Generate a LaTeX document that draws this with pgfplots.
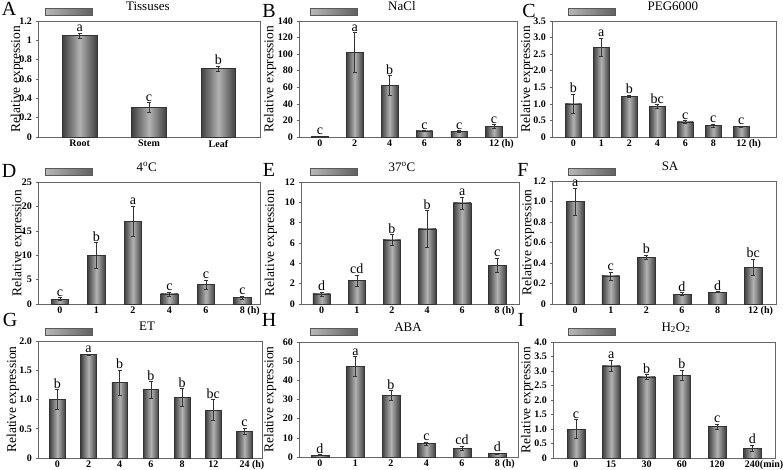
\documentclass[border=0pt]{standalone}
\usepackage{fontspec}
\setmainfont{Liberation Serif}
\usepackage{pgfplots}
\usepackage{pgfplotstable}
\pgfplotsset{compat=1.18}
\pgfplotsset{
  panel/.style={
    scale only axis, clip=false, anchor=south west,
    axis line style={black!60, line width=0.6pt},
    xtick=data,
    major x tick style={draw=none},
    ytick pos=left, tick align=outside, major tick length=2.5pt,
    major y tick style={black!60, line width=0.6pt},
    ticklabel style={font=\fontsize{10}{10}\selectfont\bfseries},
    xticklabel style={yshift=3pt},
    ylabel={Relative expression},
    ylabel style={font=\fontsize{13.5}{13.5}\selectfont, anchor=center},
    title style={font=\fontsize{13}{13}\selectfont, anchor=base, inner sep=0pt, yshift=5pt},
    ymin=0,
    every node near coord/.append style={font=\fontsize{14}{14}\selectfont, inner sep=1pt, black},
  },
  ylabpos/.style={ylabel style={at={(axis description cs:#1,0.5)}}},
  ttlpos/.style={title style={at={(axis description cs:#1,1)}}},
  barplot/.style={ybar, bar width=#1, bar shift=0pt, draw=black!80, line width=0.5pt,
    left color=black!75, right color=black!75, middle color=black!30,
    error bars/.cd, y dir=both, y explicit,
    error bar style={draw=black!80, line width=0.6pt},
    error mark options={rotate=90, mark size=2pt, draw=black!80}},
  letters/.style={draw=none, mark=none, nodes near coords, point meta=explicit symbolic, nodes near coords align={above}},
}
\newcommand{\legbar}[2]{\shade[left color=black!28, right color=black!62, draw=black!65, line width=0.5pt] (#1pt,-#2pt) rectangle ++(47pt,-7.5pt);}
% one plot per bar, so each bar carries its own shading
\newcommand{\bars}[3]{%
  \pgfplotsinvokeforeach{0,...,#2}{\addplot[restrict x to domain=##1:##1, barplot=#3] table[x=x,y=y,y error=e]{#1};}
  \addplot[letters] table[x=x,y expr=\thisrow{y}+\thisrow{e},meta=l]{#1};
}
\pgfplotstableread{
x y e l
0 1.05 0.025 a
1 0.305 0.05 c
2 0.71 0.025 b
}\tA
\pgfplotstableread{
x y e l
0 1.0 0.5 c
1 102 24 a
2 62 12 b
3 7.5 0.5 c
4 6.8 1.0 c
5 12.8 2.2 c
}\tB
\pgfplotstableread{
x y e l
0 1.0 0.29 b
1 2.71 0.28 a
2 1.23 0.03 b
3 0.93 0.05 bc
4 0.46 0.04 c
5 0.35 0.04 c
6 0.32 0.02 c
}\tC
\pgfplotstableread{
x y e l
0 1.0 0.3 c
1 10.0 2.6 b
2 17.0 3.1 a
3 2.1 0.4 c
4 3.95 1.0 c
5 1.3 0.3 c
}\tD
\pgfplotstableread{
x y e l
0 1.0 0.2 d
1 2.3 0.55 cd
2 6.3 0.55 b
3 7.4 1.8 b
4 9.95 0.6 a
5 3.8 0.7 c
}\tE
\pgfplotstableread{
x y e l
0 1.0 0.13 a
1 0.275 0.04 c
2 0.457 0.02 b
3 0.097 0.015 d
4 0.117 0.005 d
5 0.36 0.08 bc
}\tF
\pgfplotstableread{
x y e l
0 1.0 0.17 b
1 1.77 0.01 a
2 1.29 0.21 b
3 1.17 0.14 b
4 1.04 0.15 b
5 0.82 0.18 bc
6 0.46 0.05 c
}\tG
\pgfplotstableread{
x y e l
0 1.0 0.3 d
1 47.2 5.2 a
2 32.2 2.5 b
3 7.0 0.8 c
4 4.7 1.2 cd
5 1.9 0.3 d
}\tH
\pgfplotstableread{
x y e l
0 1.0 0.33 c
1 3.18 0.2 a
2 2.8 0.08 b
3 2.86 0.17 b
4 1.08 0.1 c
5 0.34 0.1 d
}\tI
\begin{document}
\begin{tikzpicture}
\path[use as bounding box] (0,0) rectangle (783pt,-469pt);
% A
\begin{axis}[panel, at={(38pt,-137pt)}, width=222pt, height=116pt,
  xmin=-0.6, xmax=2.6, ymax=1.2, ytick={0,0.2,0.4,0.6,0.8,1,1.2},
  yticklabels={0,0.2,0.4,0.6,0.8,1,1.2}, xtick={0,1,2}, xticklabels={Root,Stem,Leaf},
  title={Tissuses}, ttlpos=0.495, ylabpos=-0.095]
\bars{\tA}{2}{0.5}
\end{axis}
% B
\begin{axis}[panel, at={(299pt,-137pt)}, width=218pt, height=116pt,
  xmin=-0.6, xmax=5.66, ymax=140, ytick={0,20,...,140},
  yticklabels={0,20,40,60,80,100,120,140}, xtick={0,...,5}, xticklabels={0,2,4,6,8,12\rlap{\ (h)}},
  title={NaCl}, ttlpos=0.472, ylabpos=-0.133]
\bars{\tB}{5}{0.48}
\end{axis}
% C
\begin{axis}[panel, at={(552pt,-137pt)}, width=224pt, height=116pt,
  xmin=-0.76, xmax=7.24, ymax=3.5, ytick={0,0.5,...,3.5},
  yticklabels={0,0.5,1.0,1.5,2.0,2.5,3.0,3.5}, xtick={0,...,6}, xticklabels={0,1,2,4,6,8,12\rlap{\ (h)}},
  title={PEG6000}, ttlpos=0.54, ylabpos=-0.112]
\bars{\tC}{6}{0.57}
\end{axis}
% D
\begin{axis}[panel, at={(38pt,-304pt)}, width=222pt, height=122pt,
  xmin=-0.6, xmax=5.48, ymax=25, ytick={0,5,...,25},
  yticklabels={0,5,10,15,20,25}, xtick={0,...,5}, xticklabels={0,1,2,4,6,8\rlap{\ (h)}},
  title={4\textsuperscript{o}C}, ttlpos=0.49, ylabpos=-0.09]
\bars{\tD}{5}{0.48}
\end{axis}
% E
\begin{axis}[panel, at={(301pt,-304pt)}, width=218pt, height=122pt,
  xmin=-0.59, xmax=5.62, ymax=12, ytick={0,2,...,12},
  yticklabels={0,2,4,6,8,10,12}, xtick={0,...,5}, xticklabels={0,1,2,4,6,8\rlap{\ (h)}},
  title={37\textsuperscript{o}C}, ttlpos=0.463, ylabpos=-0.138]
\bars{\tE}{5}{0.5}
\end{axis}
% F
\begin{axis}[panel, at={(552pt,-304pt)}, width=224pt, height=123pt,
  xmin=-0.65, xmax=5.64, ymax=1.2, ytick={0,0.2,0.4,0.6,0.8,1.0,1.2},
  yticklabels={0,0.2,0.4,0.6,0.8,1.0,1.2}, xtick={0,...,5}, xticklabels={0,1,2,6,8,12\rlap{\ (h)}},
  title={SA}, ttlpos=0.527, ylabpos=-0.107]
\bars{\tF}{5}{0.5}
\end{axis}
% G
\begin{axis}[panel, at={(38pt,-458pt)}, width=224pt, height=117pt,
  xmin=-0.62, xmax=6.56, ymax=2.0, ytick={0,0.5,1.0,1.5,2.0},
  yticklabels={0,0.5,1.0,1.5,2.0}, xtick={0,...,6}, xticklabels={0,2,4,6,8,12,24\rlap{\ (h)}},
  title={ET}, ttlpos=0.487, ylabpos=-0.112]
\bars{\tG}{6}{0.5}
\end{axis}
% H
\begin{axis}[panel, at={(299pt,-457pt)}, width=219pt, height=115pt,
  xmin=-0.59, xmax=5.58, ymax=60, ytick={0,10,...,60},
  yticklabels={0,10,20,30,40,50,60}, xtick={0,...,5}, xticklabels={0,1,2,4,6,8\rlap{\ (h)}},
  title={ABA}, ttlpos=0.498, ylabpos=-0.132]
\bars{\tH}{5}{0.5}
\end{axis}
% I
\begin{axis}[panel, at={(553pt,-458pt)}, width=222pt, height=116pt,
  xmin=-0.65, xmax=5.64, ymax=4.0, ytick={0,0.5,...,4.0},
  yticklabels={0,0.5,1.0,1.5,2.0,2.5,3.0,3.5,4.0}, xtick={0,...,5}, xticklabels={0,15,30,60,120,240\rlap{(min)}},
  title={H\textsubscript{2}O\textsubscript{2}}, ttlpos=0.554, ylabpos=-0.117]
\bars{\tI}{5}{0.5}
\end{axis}
% legend bars
\legbar{45}{8}\legbar{310}{8}\legbar{568}{8}
\legbar{45}{168}\legbar{310}{168}\legbar{568}{168}
\legbar{45}{328}\legbar{310}{328}\legbar{568}{328}
% panel letters
\begin{scope}[every node/.style={font=\fontsize{20}{20}\selectfont, inner sep=0pt}]
\node at (9pt,-9pt) {A};
\node at (269pt,-11pt) {B};
\node at (529pt,-11pt) {C};
\node at (9pt,-171pt) {D};
\node at (269pt,-170pt) {E};
\node at (523pt,-170pt) {F};
\node at (10pt,-320pt) {G};
\node at (269pt,-320pt) {H};
\node at (521pt,-320pt) {I};
\end{scope}
\end{tikzpicture}
\end{document}
